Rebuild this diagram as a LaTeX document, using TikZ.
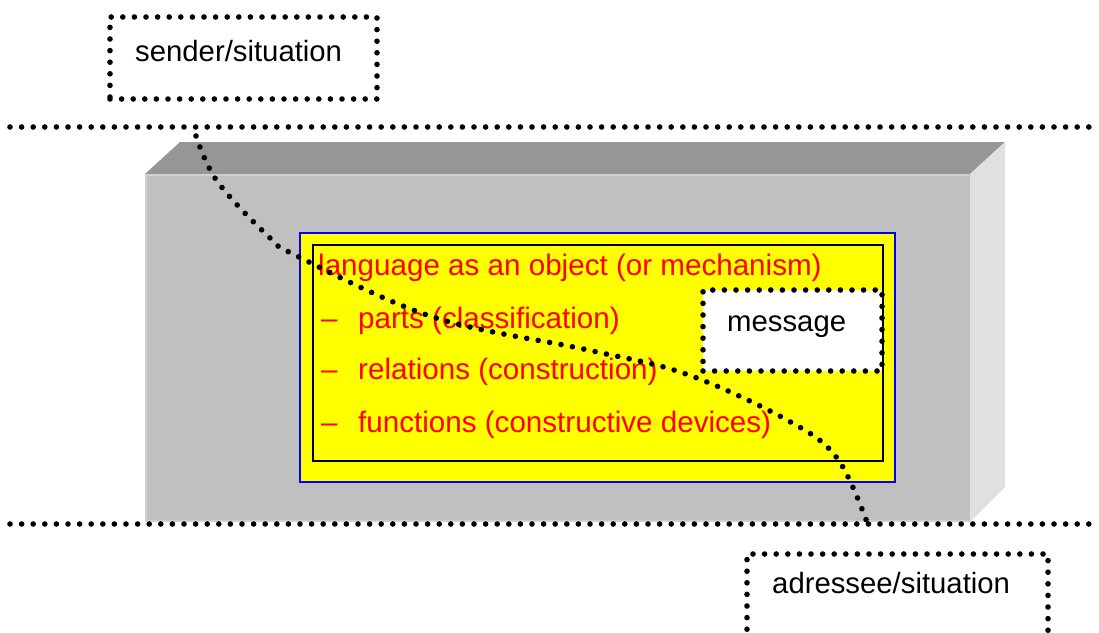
\documentclass[tikz,border=0pt]{standalone}
\usepackage{fontspec}
\setmainfont{Liberation Sans}
\definecolor{topgray}{HTML}{969696}
\definecolor{frontgray}{HTML}{C0C0C0}
\definecolor{sidegray}{HTML}{E0E0E0}
\definecolor{edgegray}{HTML}{D0D0D0}
\definecolor{panelyellow}{HTML}{FFFF00}
\definecolor{panelblue}{HTML}{0000FF}
\definecolor{textred}{HTML}{FF0000}
\tikzset{
  dots/.style={line width=5.6pt, dash pattern=on 0pt off 11.6pt, line cap=round},
  dotbox/.style={dots, draw=black, rectangle},
  redtxt/.style={text=textred, font=\fontsize{29.6}{35}\selectfont, anchor=base west, inner sep=0pt},
  blacktxt/.style={text=black, font=\fontsize{29.3}{35}\selectfont, anchor=base west, inner sep=0pt},
}
\begin{document}
\begin{tikzpicture}[x=1pt,y=-1pt]
\useasboundingbox (0,0) rectangle (1099,632);
% solid block
\fill[topgray] (145,174) -- (180,142) -- (1005,142) -- (970,174) -- cycle;
\fill[sidegray] (970,174) -- (1005,142) -- (1005,487) -- (970,522) -- cycle;
\fill[frontgray] (145,174) rectangle (970,522);
\draw[edgegray, line width=1.5pt] (146,522) -- (146,175) -- (969,175);
\draw[edgegray, line width=1.5pt] (146,521) -- (969,521);
% object panel
\node[draw=panelblue, fill=panelyellow, line width=1.2pt, minimum width=595pt, minimum height=249pt, inner sep=0pt] (panel) at (597.5,357.5) {};
\node[draw=black, line width=1.6pt, minimum width=570pt, minimum height=216pt, inner sep=0pt] (frame) at (598,353) {};
\node[redtxt] (title) at (318,275) {language as an object (or mechanism)};
\node[redtxt] (d1) at (321,328) {–};
\node[redtxt] (i1) at (358,328) {parts (classification)};
\node[redtxt] (d2) at (321,379) {–};
\node[redtxt] (i2) at (358,379) {relations (construction)};
\node[redtxt] (d3) at (321,432) {–};
\node[redtxt] (i3) at (358,432) {functions (constructive devices)};
% message
\node[dotbox, fill=white, minimum width=179pt, minimum height=81pt, inner sep=0pt] (msgbox) at (792.5,330.5) {};
\node[blacktxt] (msg) at (727,331) {message};
% horizontal boundaries
\coordinate (topL) at (10,127);
\coordinate (topR) at (1095,127);
\coordinate (botL) at (10,524);
\coordinate (botR) at (1095,524);
\draw[dots] (topL) -- (topR);
\draw[dots] (botL) -- (botR);
% sender and addressee
\node[dotbox, minimum width=267pt, minimum height=82pt, inner sep=0pt] (sender) at (243.5,58) {};
\node[blacktxt] (sendertxt) at (135,61) {sender/situation};
\node[dotbox, minimum width=301pt, minimum height=100pt, inner sep=0pt] (addr) at (897.5,604) {};
\node[blacktxt] (addrtxt) at (772,593) {adressee/situation};
% communication path
\coordinate (pathS) at (196,136);
\coordinate (pathE) at (868,525);
\draw[dots] plot[smooth, tension=0.6] coordinates {(pathS) (217,181) (267,235) (297,256) (433,317) (588,350) (686,374) (787,420) (837,458) (pathE)};
\end{tikzpicture}
\end{document}
